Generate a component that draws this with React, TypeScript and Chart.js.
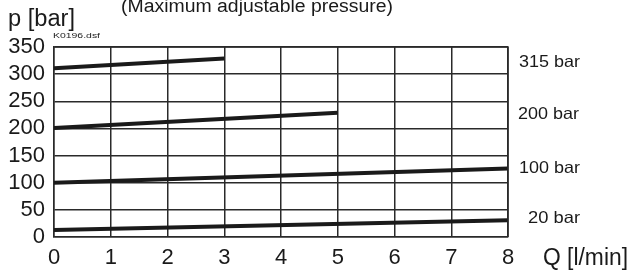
import React, { useEffect, useRef } from "react";
import { Chart, registerables } from "chart.js";

Chart.register(...registerables);

const xTicks = [0, 1, 2, 3, 4, 5, 6, 7, 8];
const yTicks = [0, 50, 100, 150, 200, 250, 300, 350];

const flowQ315 = [0, 3];
const pressure315 = [311, 329];
const flowQ200 = [0, 5];
const pressure200 = [201, 229];
const flowQ100 = [0, 8];
const pressure100 = [100, 126];
const flowQ20 = [0, 8];
const pressure20 = [13, 31];

const seriesLabels = ["315 bar", "200 bar", "100 bar", "20 bar"];
const labelPressures = [322, 225, 127, 35];

const FONT = "'Liberation Sans', Arial, Helvetica, sans-serif";
const INK = "#1a1a1a";

function pts(xs: number[], ys: number[]) {
  return xs.map((x, i) => ({ x, y: ys[i] }));
}

function drawFit(ctx: any, text: string, x: number, y: number, size: number, width: number) {
  ctx.save();
  ctx.font = `${size}px ${FONT}`;
  const w = ctx.measureText(text).width;
  const k = width / w;
  ctx.translate(x, y);
  ctx.scale(k, 1);
  ctx.fillText(text, 0, 0);
  ctx.restore();
}

export default function App() {
  const ref = useRef<HTMLCanvasElement | null>(null);
  useEffect(() => {
    if (!ref.current) return;
    const textPlugin = {
      id: "texts",
      afterDraw(chart: any) {
        const ctx = chart.ctx;
        const ys = chart.scales.y;
        ctx.save();
        ctx.fillStyle = INK;
        ctx.textAlign = "left";
        ctx.textBaseline = "alphabetic";
        drawFit(ctx, "p [bar]", 8, 26, 23, 67);
        drawFit(ctx, "(Maximum adjustable pressure)", 121, 12, 18, 272);
        drawFit(ctx, "K0196.dsf", 53, 38, 8, 47);
        ctx.textBaseline = "middle";
        drawFit(ctx, "Q [l/min]", 543, 259, 23, 85);
        const xs = [519, 518, 519, 528];
        const widths = [61, 61, 61, 52];
        seriesLabels.forEach((t, i) => {
          drawFit(ctx, t, xs[i], ys.getPixelForValue(labelPressures[i]), 16.5, widths[i]);
        });
        ctx.restore();
      },
    };
    const chart = new Chart(ref.current, {
      type: "line",
      data: {
        datasets: [
          { data: pts(flowQ315, pressure315) },
          { data: pts(flowQ200, pressure200) },
          { data: pts(flowQ100, pressure100) },
          { data: pts(flowQ20, pressure20) },
        ].map((d) => ({
          ...d,
          borderColor: INK,
          borderWidth: 4,
          pointRadius: 0,
          fill: false,
          tension: 0,
        })),
      },
      options: {
        responsive: false,
        animation: false,
        layout: { padding: { left: 0, right: 122, top: 47, bottom: 0 } },
        plugins: { legend: { display: false }, tooltip: { enabled: false } },
        scales: {
          x: {
            type: "linear",
            min: 0,
            max: 8,
            afterFit: (s: any) => {
              s.height = 38;
            },
            afterBuildTicks: (s: any) => {
              s.ticks = xTicks.map((v) => ({ value: v }));
            },
            ticks: {
              font: { size: 22, family: FONT },
              color: INK,
              padding: 8,
              autoSkip: false,
              maxRotation: 0,
            },
            grid: { color: "#2a2a2a", lineWidth: 1.5, drawTicks: false },
            border: { color: "#2a2a2a", width: 1.5 },
          },
          y: {
            type: "linear",
            min: 0,
            max: 350,
            afterFit: (s: any) => {
              s.width = 54;
            },
            afterBuildTicks: (s: any) => {
              s.ticks = yTicks.map((v) => ({ value: v }));
            },
            ticks: {
              font: { size: 22, family: FONT },
              color: INK,
              padding: 9,
              autoSkip: false,
            },
            grid: { color: "#2a2a2a", lineWidth: 1.5, drawTicks: false },
            border: { color: "#2a2a2a", width: 1.5 },
          },
        },
      },
      plugins: [
        textPlugin,
        {
          id: "frame",
          afterDraw(chart: any) {
            const { ctx, chartArea: a } = chart;
            ctx.save();
            ctx.strokeStyle = "#2a2a2a";
            ctx.lineWidth = 1.5;
            ctx.beginPath();
            ctx.moveTo(a.left, a.top);
            ctx.lineTo(a.right, a.top);
            ctx.lineTo(a.right, a.bottom);
            ctx.stroke();
            ctx.restore();
          },
        },
      ],
    } as any);
    return () => chart.destroy();
  }, []);
  return (
    <div style={{ position: "absolute", left: 0, top: 0, background: "#fff" }}>
      <canvas ref={ref} width={630} height={275} style={{ display: "block" }} />
    </div>
  );
}
